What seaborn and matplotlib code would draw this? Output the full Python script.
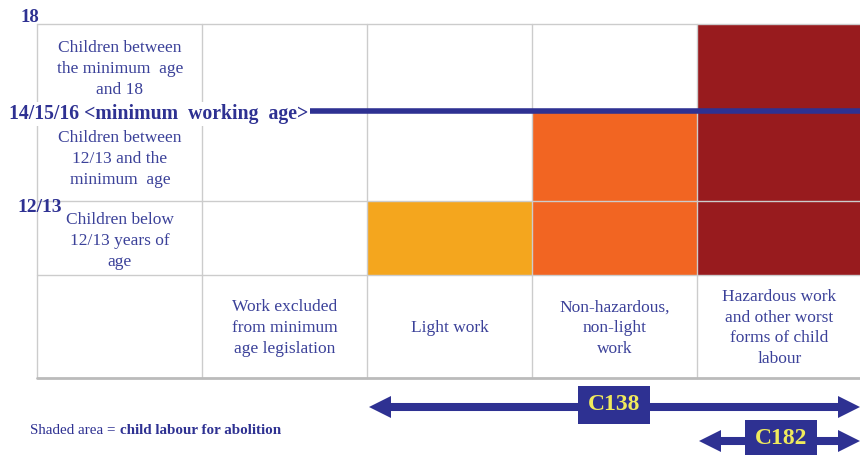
import matplotlib
matplotlib.use("Agg")
import matplotlib.pyplot as plt
import seaborn as sns
import pandas as pd
from matplotlib.colors import ListedColormap
from matplotlib.patches import Rectangle

sns.set_style("white")
plt.rcParams['font.family'] = ['Liberation Serif', 'DejaVu Serif']

# --- data ---
work_types = ["Work excluded\nfrom minimum\nage legislation",
              "Light work",
              "Non-hazardous,\nnon-light\nwork",
              "Hazardous work\nand other worst\nforms of child\nlabour"]
age_groups = ["Children between\nthe minimum  age\nand 18",
              "Children between\n12/13 and the\nminimum  age",
              "Children below\n12/13 years of\nage"]
age_marks = ["18", "14/15/16 <minimum  working  age>", "12/13"]
# 0 = not child labour, 1 = light work, 2 = non-hazardous, 3 = hazardous / worst forms
shade = [[0, 0, 0, 3],
         [0, 0, 2, 3],
         [0, 1, 2, 3]]
conventions = ["C138", "C182"]
conv_from = [1, 3]   # first work-type column covered by each convention
note_plain = "Shaded area ="
note_bold = "child labour for abolition"

# --- style ---
W, H = 860, 455
navy = '#2E3192'
text_navy = '#3B4199'
grid = '#CCCCCC'
yellow = '#F0EA5C'
cmap = ListedColormap(['#FFFFFF', '#F4A61E', '#F26522', '#981B1E'])

col_edges = [37 + 165 * k for k in range(6)]
row_edges = [24, 113, 201, 275, 378]

fig = plt.figure(figsize=(W / 100, H / 100), dpi=100)

# shaded cells, one heatmap strip per age group
for i, row in enumerate(shade):
    y0, y1 = row_edges[i], row_edges[i + 1]
    x0, x1 = col_edges[1], col_edges[-1]
    hax = fig.add_axes([x0 / W, 1 - y1 / H, (x1 - x0) / W, (y1 - y0) / H])
    df = pd.DataFrame([row], columns=work_types, index=[age_groups[i]])
    sns.heatmap(df, ax=hax, cmap=cmap, vmin=-0.5, vmax=3.5, cbar=False,
                xticklabels=False, yticklabels=False)
    hax.set_xlabel('')
    hax.set_ylabel('')

# overlay axes in pixel units for grid, labels and arrows
ax = fig.add_axes([0, 0, 1, 1])
ax.set_zorder(5)
ax.patch.set_visible(False)
ax.set_xlim(0, W)
ax.set_ylim(H, 0)
ax.axis('off')

for x in col_edges[:-1]:
    ax.plot([x, x], [row_edges[0], row_edges[-1]], color=grid, lw=1)
for y in [row_edges[0], row_edges[2], row_edges[3]]:
    ax.plot([col_edges[0], W], [y, y], color=grid, lw=1)
ax.plot([col_edges[0], W], [row_edges[-1], row_edges[-1]], color='#BBBBBB', lw=2)

# minimum working age line
ax.plot([310, W], [111, 111], color=navy, lw=4, solid_capstyle='butt')

# age marks
ax.text(21, 18, age_marks[0], fontsize=13.5, weight='bold', color=navy,
        ha='left', va='center')
ax.text(9, 114, age_marks[1], fontsize=14.2, weight='bold', color=navy,
        ha='left', va='center',
        bbox=dict(boxstyle='square,pad=0.1', fc='white', ec='none'))
ax.text(17, 208, age_marks[2], fontsize=14, weight='bold', color=navy,
        ha='left', va='center')

# row and column labels
row_centres = [69, 159, 241]
for lab, yc in zip(age_groups, row_centres):
    ax.text(120, yc, lab, fontsize=12.5, color=text_navy, ha='center',
            va='center', linespacing=1.4)
for j, lab in enumerate(work_types):
    xc = (col_edges[j + 1] + col_edges[j + 2]) / 2
    ax.text(xc, 328, lab, fontsize=12.5, color=text_navy, ha='center',
            va='center', linespacing=1.4)

# convention arrows
arrow_y = [407, 441]
box_x = [614, 781]
for name, start, ya, bx in zip(conventions, conv_from, arrow_y, box_x):
    xl = col_edges[start + 1] + 2
    xr = W
    ax.plot([xl + 10, xr - 10], [ya, ya], color=navy, lw=5.8,
            solid_capstyle='butt')
    ax.plot([xl + 11], [ya], marker='<', ms=16, mew=0, color=navy)
    ax.plot([xr - 11], [ya], marker='>', ms=16, mew=0, color=navy)
    ax.add_patch(Rectangle((bx - 36, ya - 21), 72, 38, fc=navy, ec='none'))
    ax.text(bx, ya - 2, name, fontsize=17, weight='bold', color=yellow,
            ha='center', va='center')

# note
t1 = ax.text(30, 434, note_plain, fontsize=10.8, color=navy, ha='left',
             va='baseline')
ax.annotate(note_bold, xy=(1, 0), xycoords=t1, xytext=(3, 0),
            textcoords='offset points', fontsize=10.8, weight='bold',
            color=navy, ha='left', va='bottom')

plt.savefig('out.png', dpi=100, facecolor='white')
plt.close()
